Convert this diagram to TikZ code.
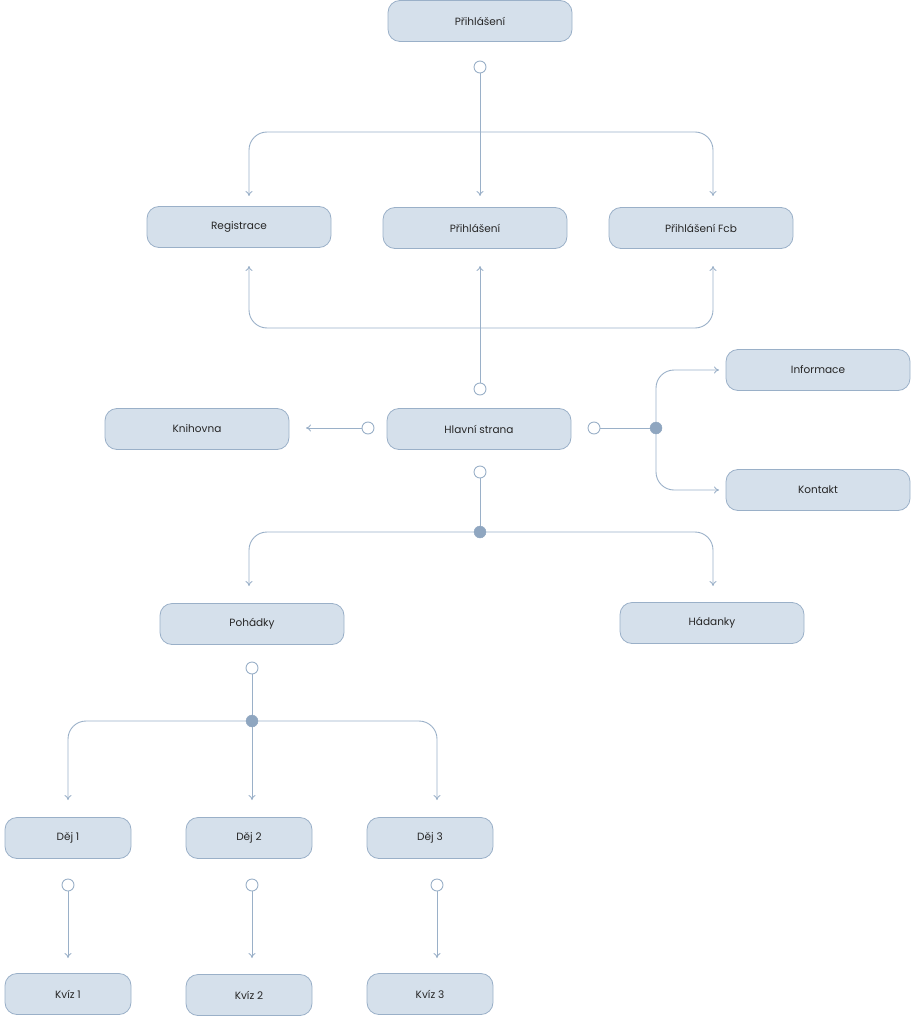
\documentclass[tikz,border=0pt]{standalone}
\usepackage{fontspec}
\setmainfont{Poppins}
\usetikzlibrary{arrows.meta}
\definecolor{boxfill}{HTML}{D5E0EB}
\definecolor{boxline}{HTML}{9AB0C8}
\definecolor{dotfill}{HTML}{8FA6C0}
\begin{document}
\begin{tikzpicture}[x=1pt,y=-1pt,
  box/.style={draw=boxline,fill=boxfill,rounded corners=12pt,minimum width=184pt,minimum height=41pt,font=\fontsize{10.5}{12}\selectfont,text=black!85,line width=0.8pt},
  sbox/.style={box,minimum width=126pt},
  oc/.style={circle,draw=boxline,fill=white,inner sep=0pt,minimum size=12pt,line width=0.9pt},
  fc/.style={circle,draw=dotfill,fill=dotfill,inner sep=0pt,minimum size=12pt},
  ln/.style={draw=boxline,line width=0.9pt,rounded corners=18pt},
  ar/.style={ln,-{To[length=5pt,width=7pt]}}]
\useasboundingbox (0,0) rectangle (918,1024);
\node[box] (top) at (480,21) {Přihlášení};
\node[box] (reg) at (239,227) {Registrace};
\node[box] (pm) at (475,228) {Přihlášení};
\node[box] (fcb) at (701,228) {Přihlášení Fcb};
\node[box] (kn) at (197,429) {Knihovna};
\node[box] (hs) at (479,429) {Hlavní strana};
\node[box] (inf) at (818,370) {Informace};
\node[box] (kon) at (818,490) {Kontakt};
\node[box] (poh) at (252,624) {Pohádky};
\node[box] (had) at (712,623) {Hádanky};
\node[sbox] (d1) at (68,838) {Děj 1};
\node[sbox] (d2) at (249,838) {Děj 2};
\node[sbox] (d3) at (430,838) {Děj 3};
\node[sbox] (k1) at (68,994) {Kvíz 1};
\node[sbox] (k2) at (249,995) {Kvíz 2};
\node[sbox] (k3) at (430,994) {Kvíz 3};
% top
\node[oc] (c1) at (480,67) {};
\coordinate (a1) at (480,196);
\coordinate (a1l) at (249,196);
\coordinate (a1r) at (713,196);
\draw[ar] (c1) -- (a1);
\draw[ar] (480,132) -| (a1l);
\draw[ar] (480,132) -| (a1r);
% up from Hlavni
\node[oc] (c2) at (480,389) {};
\coordinate (a2) at (480,266);
\coordinate (a2l) at (249,266);
\coordinate (a2r) at (713,266);
\draw[ar] (c2) -- (a2);
\draw[ar] (480,328) -| (a2l);
\draw[ar] (480,328) -| (a2r);
% left
\node[oc] (c3) at (368,428) {};
\coordinate (a3) at (306,428);
\draw[ar] (c3) -- (a3);
% right
\node[oc] (c4) at (594,428) {};
\node[fc] (f4) at (656,428) {};
\coordinate (a4u) at (719,370);
\coordinate (a4d) at (719,490);
\draw[ln] (c4) -- (f4);
\draw[ar] (f4) |- (a4u);
\draw[ar] (f4) |- (a4d);
% down
\node[oc] (c5) at (480,472) {};
\node[fc] (f5) at (480,532) {};
\coordinate (a5l) at (249,586);
\coordinate (a5r) at (713,586);
\draw[ln] (c5) -- (f5);
\draw[ar] (f5) -| (a5l);
\draw[ar] (f5) -| (a5r);
% pohadky
\node[oc] (c6) at (252,668) {};
\node[fc] (f6) at (252,721) {};
\coordinate (a6l) at (68,800);
\coordinate (a6m) at (252,800);
\coordinate (a6r) at (437,800);
\draw[ln] (c6) -- (f6);
\draw[ar] (f6) -| (a6l);
\draw[ar] (f6) -- (a6m);
\draw[ar] (f6) -| (a6r);
% dej
\node[oc] (e1) at (68,885) {};
\node[oc] (e2) at (252,885) {};
\node[oc] (e3) at (437,885) {};
\coordinate (b1) at (68,958);
\coordinate (b2) at (252,958);
\coordinate (b3) at (437,958);
\draw[ar] (e1) -- (b1);
\draw[ar] (e2) -- (b2);
\draw[ar] (e3) -- (b3);
\end{tikzpicture}
\end{document}
